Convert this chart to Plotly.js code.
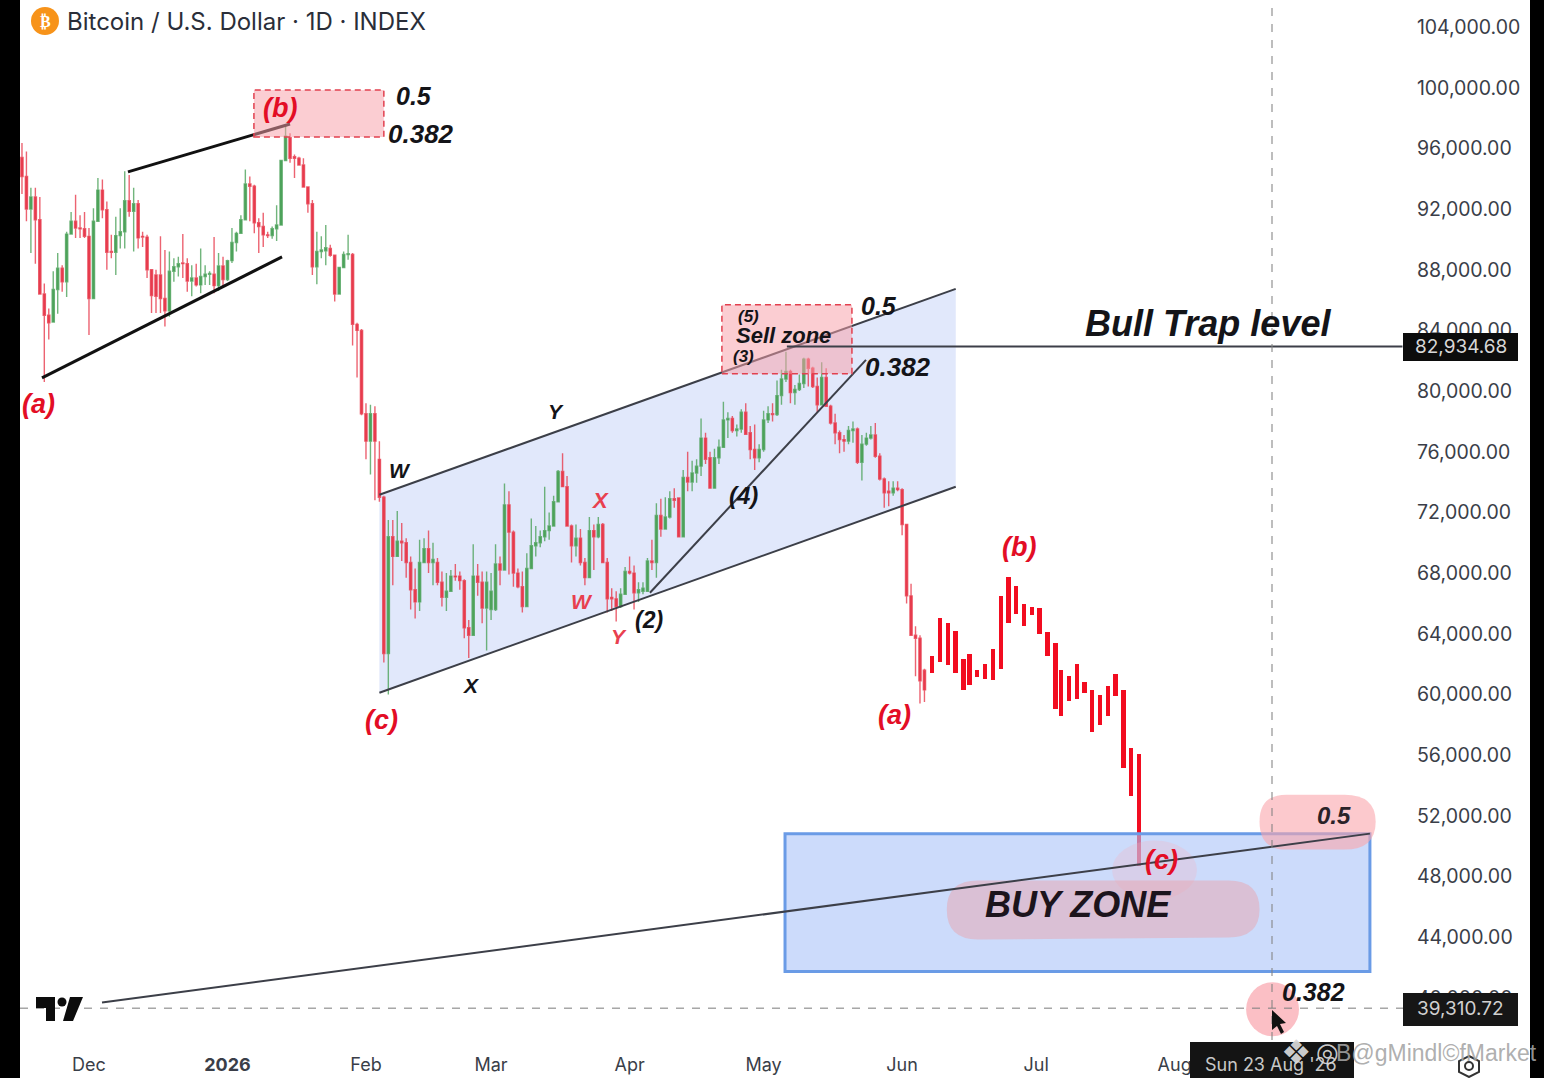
<!DOCTYPE html>
<html><head><meta charset="utf-8">
<script src="https://cdn.plot.ly/plotly-3.0.1.min.js"></script>
<style>html,body{margin:0;padding:0;background:#fff;overflow:hidden}#chart{width:1544px;height:1078px}</style>
</head><body><div id="chart"></div>
<script>
// Daily candles in thousands of USD, rows are [open, high, low, close]
const candlesNov = [
[95.4,96.35,93.0,94.15],[94.15,95.8,91.2,92.0],[92.0,93.4,89.1,92.8],[92.8,93.4,88.4,91.3],[91.3,92.8,86.35,86.4],
[86.4,87.1,80.6,85.0],[85.0,85.45,83.4,84.5],[84.55,87.9,84.55,86.7],[86.7,89.1,85.1,88.1],[88.1,88.3,86.55,87.2],
[87.2,90.5,86.2,90.35],[90.35,91.8,90.3,91.2],[91.2,92.95,90.1,90.75],[90.75,91.6,90.1,90.7],[90.7,91.8,90.1,90.2]];
const candlesDec = [
[90.2,90.75,83.7,86.1],[86.1,92.05,86.1,91.2],[91.2,94.05,91.2,93.25],[93.25,93.95,91.4,91.95],[91.95,92.5,88.0,89.15],
[89.2,90.3,88.75,89.15],[89.15,91.5,87.65,90.25],[90.25,92.05,89.4,90.5],[90.5,94.5,89.4,92.55],[92.55,94.25,91.5,91.85],
[91.85,93.4,89.2,92.35],[92.35,92.6,89.4,90.1],[90.2,90.5,89.5,90.15],[90.15,90.3,87.45,88.0],[88.0,88.0,85.15,86.3],
[87.65,88.0,85.15,86.25],[87.65,90.2,85.15,86.1],[86.1,89.3,84.25,85.3],[85.3,89.2,84.9,87.9],[87.9,88.75,87.2,88.2],
[88.2,88.85,87.55,88.4],[88.45,90.35,87.45,88.4],[88.4,88.75,86.55,87.25],[87.25,88.3,86.25,87.45],[87.45,88.4,86.9,87.0],
[87.0,89.4,86.45,87.55],[87.55,88.3,87.0,87.7],[87.7,87.9,87.0,87.75],[87.7,90.15,86.45,86.95],[86.95,89.1,86.6,88.25],
[88.25,88.85,86.8,87.35]];
const candlesJan = [
[87.35,88.65,87.25,88.6],[88.6,90.75,88.45,89.8],[89.8,90.5,89.2,90.4],[90.4,91.6,90.4,91.3],[91.3,94.6,91.3,93.65],
[93.65,94.15,91.2,93.5],[93.5,93.6,90.4,91.1],[91.1,91.4,89.1,90.85],[90.85,91.75,89.5,90.3],[90.3,90.5,90.1,90.25],
[90.25,90.85,90.05,90.7],[90.7,92.25,89.9,90.95],[90.95,95.25,90.9,95.2],[95.2,97.55,95.15,96.8],[96.7,97.0,95.05,95.35],
[95.45,95.6,94.05,95.35],[95.35,95.45,94.9,94.9],[94.9,95.35,93.4,93.45],[93.45,93.5,91.75,92.35],[92.35,92.6,87.65,88.2],
[88.2,90.5,87.05,89.2],[89.2,90.2,88.75,89.3],[89.25,90.95,88.3,89.45],[89.4,89.65,88.85,88.95],[88.95,89.0,85.9,86.4],
[86.4,88.2,86.35,88.15],[88.15,89.2,88.1,89.0],[89.0,90.3,88.65,89.05],[89.0,89.1,83.0,84.4],[84.4,84.5,80.9,84.0],
[84.0,84.1,78.4,78.5]];
const candlesFeb = [
[78.5,79.2,75.5,76.7],[76.7,79.1,74.5,78.5],[78.5,79.0,72.8,76.7],[75.5,76.7,72.7,73.0],[73.0,73.1,62.1,62.7],
[62.7,71.5,60.0,70.4],[70.4,71.5,67.2,69.1],[69.1,72.1,69.1,70.1],[70.1,71.3,68.8,70.0],[70.0,70.3,67.7,68.7],
[68.7,69.1,65.6,66.9],[66.9,68.3,65.0,66.1],[66.1,70.2,65.5,68.7],[68.7,70.3,68.7,69.6],[69.6,70.8,68.0,68.7],
[68.7,70.0,67.2,68.9],[68.7,69.0,67.2,67.4],[67.4,68.1,65.8,66.4],[66.4,68.0,65.5,66.8],[66.8,68.2,66.8,67.8],
[67.8,68.6,67.5,67.75],[67.8,68.1,66.9,67.5],[67.5,67.6,63.7,64.4],[64.4,64.9,62.4,63.9],[63.9,69.9,63.9,67.8],
[67.8,68.6,66.5,67.4],[67.4,68.1,64.7,65.7],[65.7,68.1,62.9,67.4]];
const candlesMar = [
[65.6,68.0,64.9,66.8],[65.6,69.9,65.5,68.6],[68.6,69.1,67.2,68.2],[68.2,73.9,68.2,72.5],[72.5,73.4,67.9,70.7],
[70.7,70.8,67.1,68.0],[68.0,68.3,67.0,67.1],[67.1,68.1,65.4,65.8],[65.8,69.3,65.8,68.3],[68.3,71.6,68.3,69.8],
[69.8,71.1,69.1,70.0],[70.0,70.8,69.7,70.4],[70.4,73.7,70.1,70.8],[70.8,72.0,70.2,71.1],[71.1,73.1,71.1,72.7],
[72.7,74.8,72.7,74.7],[74.7,75.9,73.7,73.7],[73.7,74.4,71.1,71.1],[71.1,71.2,68.7,69.8],[69.8,71.2,69.1,70.3],
[70.3,70.9,68.5,68.7],[68.7,69.0,67.2,67.7],[67.7,71.7,67.7,70.8],[70.8,71.2,68.2,70.4],[70.4,71.7,70.3,71.2],
[71.2,71.3,68.7,68.7],[68.7,69.0,65.4,66.3],[66.4,67.0,65.5,66.3],[66.3,66.8,64.8,65.8],[65.8,67.0,65.7,66.6],
[66.6,68.4,66.6,68.1]];
const candlesApr = [
[68.1,69.1,67.9,68.0],[68.0,68.5,65.6,66.7],[66.7,67.4,66.1,66.9],[66.8,67.4,66.6,67.0],[66.8,69.0,66.8,68.8],
[68.8,70.2,68.2,68.7],[68.7,72.6,67.7,71.8],[71.8,72.9,70.4,70.9],[70.9,73.0,70.9,71.7],[71.7,73.4,71.6,72.9],
[72.9,73.6,72.3,72.8],[72.95,73.0,70.4,70.4],[70.4,74.8,70.4,74.3],[74.3,76.0,73.4,74.0],[74.0,75.4,73.4,74.6],
[74.6,75.5,73.95,75.05],[75.05,78.2,74.4,76.9],[76.9,77.25,75.2,75.5],[75.6,76.0,73.6,73.6],[73.6,76.2,73.6,75.6],
[75.6,76.8,75.2,76.3],[76.3,79.3,76.3,78.1],[78.1,78.6,76.9,78.2],[78.2,78.35,77.25,77.4],[77.4,77.8,77.0,77.5],
[77.5,78.8,77.25,78.6],[78.6,79.2,77.15,77.15],[77.25,77.7,75.5,76.15],[76.15,77.8,74.8,75.6],[75.6,76.5,75.3,76.15]];
const candlesMay = [
[76.15,78.7,76.0,78.1],[78.1,79.0,77.9,78.5],[78.5,79.2,78.0,78.45],[78.45,80.7,78.35,79.7],[79.7,81.4,79.1,80.8],
[80.8,82.6,80.6,81.3],[81.3,81.4,79.2,79.9],[79.9,80.4,79.1,80.1],[80.1,81.1,80.0,80.5],[80.5,82.2,80.2,82.1],
[82.1,82.2,80.3,81.5],[81.5,81.6,80.2,80.3],[80.3,80.9,78.6,79.1],[79.1,81.9,79.1,80.9],[80.9,81.5,79.0,79.0],
[79.0,79.1,77.8,77.9],[77.9,78.5,76.5,77.25],[77.25,77.4,75.9,76.8],[76.8,77.1,76.0,76.7],[76.7,77.7,76.5,77.4],
[77.4,78.0,76.6,77.5],[77.5,77.6,75.2,75.3],[75.3,77.1,74.1,76.5],[76.5,77.25,76.4,76.9],[76.9,77.7,76.8,77.1],
[77.1,77.9,75.6,75.7],[75.7,75.9,74.1,74.2],[74.2,74.3,72.3,73.3],[73.4,74.05,72.4,73.3],[73.3,74.05,73.1,73.6],
[73.6,74.05,73.4,73.5]];
const candlesJun = [
[73.5,73.6,70.5,71.2],[71.2,71.25,66.0,66.5],[66.5,67.3,63.9,63.9],[63.9,64.5,61.2,63.7],[63.7,63.9,59.4,60.9],[61.6,61.7,59.5,60.3]];

// Projected path bars
const barDates = ['2026-06-07 17:00','2026-06-09 12:00','2026-06-11 05:30','2026-06-12 22:00','2026-06-14 17:00','2026-06-16 02:00','2026-06-17 19:00','2026-06-19 14:00','2026-06-21 09:00','2026-06-23 02:00','2026-06-24 19:00','2026-06-26 12:00','2026-06-28 07:00','2026-06-30 01:00','2026-07-01 18:00','2026-07-03 12:30','2026-07-05 07:30','2026-07-06 14:00','2026-07-08 07:30','2026-07-10 02:30','2026-07-11 19:00','2026-07-13 12:30','2026-07-15 07:00','2026-07-17 01:00','2026-07-18 18:00','2026-07-20 13:00','2026-07-22 06:00','2026-07-24 01:00'];
const barTops = [62.54,65.07,64.74,64.15,62.36,62.69,61.59,61.99,63.0,66.48,67.71,67.12,65.95,65.77,65.69,64.12,63.38,61.59,61.22,61.99,60.82,60.32,59.94,60.56,61.33,60.32,56.45,56.05];
const barBottoms = [61.44,62.14,61.95,61.44,60.27,60.6,61.18,61.0,60.93,61.7,64.7,65.33,64.52,65.22,64.01,62.54,59.02,58.56,59.57,59.68,60.1,57.52,57.96,58.56,59.9,55.15,53.32,48.72];

const yTicks = [104000,100000,96000,92000,88000,84000,80000,76000,72000,68000,64000,60000,56000,52000,48000,44000,40000];
const xTickDates = ['2025-12-01','2026-01-01','2026-02-01','2026-03-01','2026-04-01','2026-05-01','2026-06-01','2026-07-01','2026-08-01'];
const xTickText = ['Dec','<b>2026</b>','Feb','Mar','Apr','May','Jun','Jul','Aug'];
const bullTrap = 82934.68;
const crossPrice = 39310.72;
const crossDate = '2026-08-22 19:00';

const rows = [].concat(candlesNov,candlesDec,candlesJan,candlesFeb,candlesMar,candlesApr,candlesMay,candlesJun);
const dates = rows.map((r,i)=>new Date(Date.UTC(2025,10,16+i)).toISOString().slice(0,10));
const K = v=>v*1000;
const RED='#e73c4e', GREEN='#4ea35b', BAR='#f20c20';

const traces = [
 {type:'candlestick',x:dates,
  open:rows.map(r=>K(r[0])),high:rows.map(r=>K(r[1])),low:rows.map(r=>K(r[2])),close:rows.map(r=>K(r[3])),
  increasing:{line:{color:'rgba(78,163,91,.8)',width:1.4},fillcolor:GREEN},
  decreasing:{line:{color:'rgba(231,60,78,.8)',width:1.4},fillcolor:RED},whiskerwidth:0,hoverinfo:'skip'},
 {type:'bar',x:barDates,y:barTops.map((t,i)=>K(t-barBottoms[i])),base:barBottoms.map(K),width:86400000,
  marker:{color:BAR,line:{width:0}},hoverinfo:'skip'}
];

// pixel → paper helpers, used only for label placement and page furniture
const PL=20,PW=1385,PH=1040;
const X=p=>(p-PL)/PW, Y=p=>1-p/PH;
const poly=pts=>'M'+pts.map(p=>X(p[0])+','+Y(p[1])).join(' L')+' Z';

const line=(x0,y0,x1,y1,color,width)=>({type:'line',xref:'x',yref:'y',x0,y0,x1,y1,line:{color,width},layer:'above'});
const paperRect=(a,b,c,d,col)=>({type:'rect',xref:'paper',yref:'paper',x0:X(a),x1:X(c),y0:Y(b),y1:Y(d),fillcolor:col,line:{width:0},layer:'above'});
const paperPath=(d,col)=>({type:'path',xref:'paper',yref:'paper',path:d,fillcolor:col,line:{width:0},layer:'above'});
const paperCircle=(cx,cy,r,col)=>({type:'circle',xref:'paper',yref:'paper',x0:X(cx-r),x1:X(cx+r),y0:Y(cy+r),y1:Y(cy-r),fillcolor:col,line:{width:0},layer:'above'});

const shapes = [
 // rising channel
 {type:'path',xref:'x',yref:'y',layer:'below',path:'M2026-02-04,73163 L2026-06-13,86738 L2026-06-13,73690 L2026-02-04,60115 Z',fillcolor:'#e1e8fb',line:{width:0}},
 line('2026-02-04',73163,'2026-06-13',86738,'#3c3f48',2),
 line('2026-02-04',60115,'2026-06-13',73690,'#3c3f48',2),
 // black trend lines of the first triangle
 line('2025-12-09 17:30',94449,'2026-01-15',97612,'#111',3),
 line('2025-11-20 11:30',80873,'2026-01-13 05:00',88847,'#111',3),
 line('2026-04-05 13:30',66705,'2026-05-23 22:00',82059,'#3c3f48',2),
 // zones
 {type:'rect',xref:'x',yref:'y',x0:'2026-01-06 22:00',x1:'2026-02-05',y0:96755,y1:99852,fillcolor:'rgba(248,160,168,.52)',line:{color:'#e2404f',width:1.5,dash:'6px,4px'},layer:'above'},
 {type:'rect',xref:'x',yref:'y',x0:'2026-04-21 16:00',x1:'2026-05-20 18:30',y0:81137,y1:85684,fillcolor:'rgba(248,160,168,.52)',line:{color:'#e2404f',width:1.5,dash:'6px,4px'},layer:'above'},
 {type:'rect',xref:'x',yref:'y',x0:'2026-05-05 19:00',x1:'2026-09-13 17:00',y0:41729,y1:50823,fillcolor:'rgba(170,195,248,.6)',line:{color:'#6a9be6',width:3},layer:'above'},
 // highlight blobs
 {type:'circle',xref:'x',yref:'y',x0:'2026-07-18',x1:'2026-08-06',y0:46470,y1:50370,fillcolor:'rgba(245,175,190,.28)',line:{width:0},layer:'above'},
 {type:'path',xref:'x',yref:'y',layer:'above',path:'M2026-06-18,47725 L2026-08-13,47725 Q2026-08-20,47725 2026-08-20,45815 Q2026-08-20,43970 2026-08-13,43970 L2026-06-18,43838 Q2026-06-11,43838 2026-06-11,45815 Q2026-06-11,47725 2026-06-18,47725 Z',fillcolor:'rgba(232,165,175,.5)',line:{width:0}},
 {type:'path',xref:'x',yref:'y',layer:'above',path:'M2026-08-26,53393 L2026-09-08,53393 Q2026-09-15,53393 2026-09-15,51614 Q2026-09-15,49772 2026-09-08,49772 L2026-08-26,49772 Q2026-08-20,49772 2026-08-20,51614 Q2026-08-20,53393 2026-08-26,53393 Z',fillcolor:'rgba(250,165,172,.6)',line:{width:0}},
 {type:'circle',xref:'x',yref:'y',x0:'2026-08-17',x1:'2026-08-28 20:00',y0:37465,y1:41023,fillcolor:'rgba(250,175,182,.8)',line:{width:0},layer:'above'},
 // long support and bull trap lines
 line('2025-12-03 22:00',39685,'2026-09-13 17:00',50823,'#3c3f48',2),
 {type:'line',xref:'x',yref:'y',x0:'2026-05-06 05:00',x1:'2026-09-21',y0:bullTrap,y1:bullTrap,line:{color:'#3c3f48',width:2},layer:'above'},
 // crosshair
 {type:'line',xref:'x',yref:'paper',x0:crossDate,x1:crossDate,y0:0,y1:1,line:{color:'rgba(130,130,130,.7)',width:1.5,dash:'8px,8px'},layer:'above'},
 {type:'line',xref:'paper',yref:'y',x0:0,x1:1,y0:crossPrice,y1:crossPrice,line:{color:'rgba(130,130,130,.7)',width:1.5,dash:'8px,8px'},layer:'above'},
 // axis tags
 paperRect(1403,333,1518,361,'#0c0c0c'),
 paperRect(1403,993,1518,1026,'#161616'),
 paperRect(1190,1042,1354,1078,'#141414'),
 // side bars
 paperRect(0,0,20,1078,'#000'),
 paperRect(1530,0,1544,1078,'#000'),
 // logo
 paperPath(poly([[36,997],[55,997],[55,1021],[46,1021],[46,1008],[36,1008]]),'#0c0c0c'),
 paperCircle(62,1002,4.5,'#0c0c0c'),
 paperPath(poly([[70,997],[83,997],[73,1021],[63,1021]]),'#0c0c0c'),
 // bitcoin badge
 paperCircle(45,21,14,'#f7931a'),
 // cursor
 paperPath(poly([[1272,1010],[1272,1030],[1277,1026],[1281,1034],[1284,1032],[1280,1024],[1286,1023]]),'#111'),
 // settings hexagon
 {type:'path',xref:'paper',yref:'paper',layer:'above',path:poly([[1469,1056],[1479,1061],[1479,1072],[1469,1077],[1459,1072],[1459,1061]]),fillcolor:'rgba(0,0,0,0)',line:{color:'#333',width:2}},
 {type:'circle',xref:'paper',yref:'paper',layer:'above',x0:X(1465),x1:X(1473),y0:Y(1070),y1:Y(1062),fillcolor:'rgba(0,0,0,0)',line:{color:'#333',width:2}}
];

const SANS='"Liberation Sans", Arial, sans-serif';
const note=(px,py,text,size,color,opt)=>Object.assign({xref:'paper',yref:'paper',x:X(px),y:Y(py),text,showarrow:false,xanchor:'center',yanchor:'middle',font:{family:SANS,size,color}},opt||{});
const bi=t=>'<b><i>'+t+'</i></b>';
const DRED='#e30d25', LRED='#e8404f', INK='#141418';
const annotations = [
 note(65,21,'Bitcoin / U.S. Dollar · 1D · INDEX',24,'#2a2e39',{xanchor:'left',font:{family:'Inter, sans-serif',size:24,color:'#2a2e39'}}),
 note(45,21,'<b>₿</b>',17,'#fff',{font:{family:'DejaVu Sans',size:16,color:'#fff'}}),
 note(280,108,bi('(b)'),27,DRED),
 note(414,96,bi('0.5'),25,INK),
 note(421,134,bi('0.382'),26,INK),
 note(38,404,bi('(a)'),27,DRED),
 note(400,471,bi('W'),21,INK),
 note(556,412,bi('Y'),21,INK),
 note(471,685,bi('X'),21,INK),
 note(381,720,bi('(c)'),27,DRED),
 note(600,500,bi('X'),22,LRED),
 note(582,601,bi('W'),21,LRED),
 note(619,636,bi('Y'),21,LRED),
 note(649,620,bi('(2)'),23,INK),
 note(743,495,bi('(4)'),24,INK),
 note(748,316,bi('(5)'),17,INK),
 note(784,336,bi('Sell zone'),22,INK),
 note(743,356,bi('(3)'),17,INK),
 note(879,306,bi('0.5'),25,INK),
 note(898,367,bi('0.382'),26,INK),
 note(1208,323,bi('Bull Trap level'),36,INK),
 note(894,715,bi('(a)'),27,DRED),
 note(1019,547,bi('(b)'),27,DRED),
 note(1161,860,bi('(c)'),27,DRED),
 note(1078,904,bi('BUY ZONE'),36,'#1c141c'),
 note(1334,815,bi('0.5'),24,'#2a2228'),
 note(1313,992,bi('0.382'),25,INK),
 note(1461,347,'82,934.68',19,'#d8d8d8',{font:{family:'Inter, sans-serif',size:19,color:'#d8d8d8'}}),
 note(1461,1008,'39,310.72',19,'#d0d0d0',{font:{family:'Inter, sans-serif',size:19,color:'#d0d0d0'}}),
 note(1271,1064,"Sun 23 Aug '26",18,'#c8c8c8',{font:{family:'Inter, sans-serif',size:18,color:'#c8c8c8'}}),
 note(1296,1052,'❖',34,'rgba(215,215,215,.95)',{font:{family:'DejaVu Sans',size:34,color:'rgba(215,215,215,.95)'}}),
 note(1327,1052,'◎',26,'rgba(215,215,215,.95)',{font:{family:'DejaVu Sans',size:26,color:'rgba(215,215,215,.95)'}}),
 note(1436,1053,'B@gMindl©fMarket',23,'rgba(165,165,165,.9)',{font:{family:SANS,size:23,color:'rgba(165,165,165,.9)'}})
];

const layout = {
 width:1544,height:1078,margin:{l:PL,r:139,t:0,b:38,pad:0},
 paper_bgcolor:'#fff',plot_bgcolor:'#fff',showlegend:false,dragmode:false,bargap:0,
 xaxis:{type:'date',range:['2025-11-15 13:26','2026-09-21 13:26'],rangeslider:{visible:false},showgrid:false,zeroline:false,showline:false,
   tickmode:'array',tickvals:xTickDates,ticktext:xTickText,ticks:'outside',ticklen:8,tickcolor:'rgba(0,0,0,0)',
   tickfont:{family:'Inter, sans-serif',size:18,color:'#3a3e48'}},
 yaxis:{side:'right',range:[37217,105783],showgrid:false,zeroline:false,showline:false,
   tickmode:'array',tickvals:yTicks,tickformat:',.2f',ticks:'outside',ticklen:7,tickcolor:'rgba(0,0,0,0)',
   tickfont:{family:'Inter, sans-serif',size:19.5,color:'#3a3e48'}},
 shapes,annotations
};
Plotly.newPlot('chart',traces,layout,{displayModeBar:false,staticPlot:true});
</script></body></html>
